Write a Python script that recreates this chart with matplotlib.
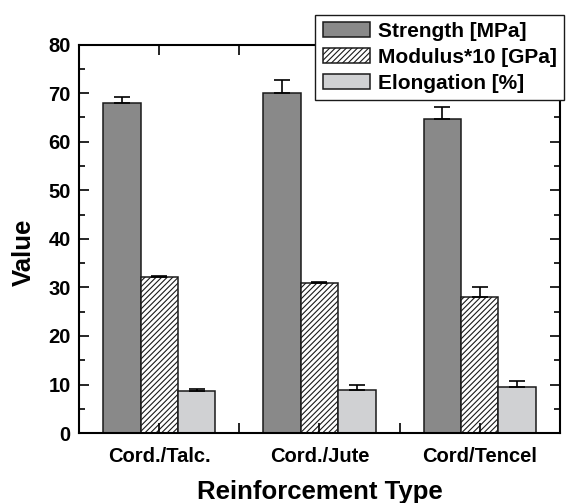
import numpy as np
import matplotlib.pyplot as plt
from matplotlib.ticker import MultipleLocator

plt.rcParams['font.family'] = ['Liberation Sans', 'DejaVu Sans']
plt.rcParams['font.weight'] = 'bold'
plt.rcParams['hatch.linewidth'] = 0.8

categories = ["Cord./Talc.", "Cord./Jute", "Cord/Tencel"]
strength = [68.0, 70.0, 64.6]
strength_err = [1.1, 2.7, 2.6]
modulus = [32.1, 30.8, 28.0]
modulus_err = [0.3, 0.4, 2.1]
elongation = [8.6, 8.9, 9.5]
elongation_err = [0.4, 1.0, 1.3]


def main():
    fig = plt.figure(figsize=(5.69, 5.03), dpi=100)
    ax = fig.add_axes([0.139, 0.139, 0.845, 0.7725])

    x = np.arange(1, len(categories) + 1)
    w = 0.233
    zeros = np.zeros(len(categories))
    ekw = dict(elinewidth=1.2, capthick=1.2, ecolor='black')

    ax.bar(x - w, strength, w, color='#898989', edgecolor='#1a1a1a', linewidth=1.1,
           yerr=[zeros, strength_err], capsize=6, error_kw=ekw, label='Strength [MPa]')
    ax.bar(x, modulus, w, color='white', edgecolor='#1a1a1a', linewidth=1.1, hatch='//////',
           yerr=[zeros, modulus_err], capsize=6, error_kw=ekw, label='Modulus*10 [GPa]')
    ax.bar(x + w, elongation, w, color='#d0d1d3', edgecolor='#1a1a1a', linewidth=1.1,
           yerr=[zeros, elongation_err], capsize=6, error_kw=ekw, label='Elongation [%]')

    ax.set_xlim(0.5, 3.5)
    ax.set_ylim(0, 80)
    ax.set_xticks(x)
    ax.set_xticklabels(categories, fontsize=14.5, fontweight='bold')
    ax.xaxis.set_minor_locator(MultipleLocator(0.5))
    ax.yaxis.set_major_locator(MultipleLocator(10))
    ax.yaxis.set_minor_locator(MultipleLocator(5))
    ax.tick_params(which='both', direction='in', top=True, right=True, width=1.2, labelsize=14.5)
    ax.tick_params(which='major', length=7)
    ax.tick_params(axis='y', which='major', pad=6)
    ax.tick_params(axis='x', which='major', pad=10)
    ax.tick_params(which='minor', length=4)
    ax.tick_params(axis='x', which='minor', length=7)
    for s in ax.spines.values():
        s.set_linewidth(1.5)

    ax.set_xlabel('Reinforcement Type', fontsize=18.5, fontweight='bold', labelpad=10)
    ax.set_ylabel('Value', fontsize=18.5, fontweight='bold')
    ax.yaxis.set_label_coords(-0.09, 0.464)

    leg = ax.legend(loc='upper right', bbox_to_anchor=(0.991, 0.971), bbox_transform=fig.transFigure,
                    fontsize=15, frameon=True, fancybox=False, borderpad=0.35, labelspacing=0.33,
                    handlelength=2.3, handleheight=0.75, handletextpad=0.35, borderaxespad=0)
    leg.get_frame().set_edgecolor('#1a1a1a')
    leg.get_frame().set_linewidth(1.0)
    leg.get_frame().set_alpha(1)

    fig.savefig('out.png', dpi=100)


if __name__ == "__main__":
    main()
